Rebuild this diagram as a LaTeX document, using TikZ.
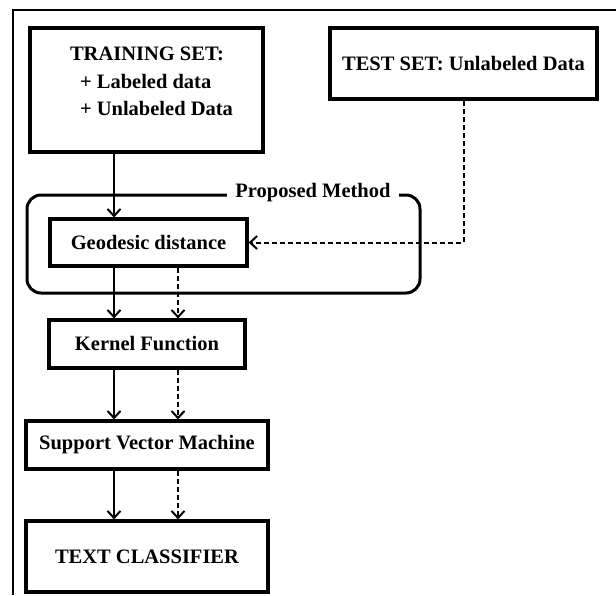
\documentclass[tikz,border=0pt]{standalone}
\usepackage{fontspec}
\setmainfont{Liberation Serif}
\usetikzlibrary{arrows.meta}
\tikzset{box/.style = {draw, line width=3.2pt, inner sep=0pt}}
\tikzset{flow/.style = {line width=2pt,
                        -{Straight Barb[length=7pt, width=13pt, line width=2pt]}}}
\tikzset{dflow/.style = {flow, dash pattern=on 5pt off 3pt}}

\begin{document}
\begin{tikzpicture}[x=1pt, y=-1pt, font=\bfseries\fontsize{20.5}{27.5}\selectfont]
      \useasboundingbox (0, 0) rectangle (616, 595);
      \draw [line width=2.4pt] (13, 595) -- (13, 10) -- (616, 10);

      \coordinate (solidlane) at (114, 0);
      \coordinate (dashlane) at (178, 0);

      \node [box, minimum width=233pt, minimum height=124pt] (train) at (146.5, 90) {};
      \node [align=left] (trainlbl) at (151.5, 81.5)
            {TRAINING SET:\\\hspace*{10pt}+ Labeled data\\\hspace*{10pt}+ Unlabeled Data};
      \node [box, minimum width=267pt, minimum height=71pt] (test) at (463.5, 63.5) {TEST SET: Unlabeled Data};

      \node [draw, rounded corners=14pt, line width=3pt, minimum width=393pt, minimum height=98pt] (method) at (223.5, 244) {};
      \node [fill=white, inner xsep=8pt, inner ysep=2pt, anchor=base] (methodlbl) at (313, 197) {Proposed Method};

      \node [box, minimum width=197pt, minimum height=47pt] (geo) at (148.5, 242.5) {Geodesic distance};
      \node [box, minimum width=196pt, minimum height=48pt] (kernel) at (147, 344) {Kernel Function};
      \node [box, minimum width=242pt, minimum height=48pt] (svm) at (147, 445) {Support Vector Machine};
      \node [box, minimum width=242pt, minimum height=71pt] (classifier) at (147, 556.5) {TEXT CLASSIFIER};

      \draw [flow] (train.south -| solidlane) -- (geo.north -| solidlane);
      \draw [dflow] (test.south) |- (geo.east);
      \foreach \a/\b in {geo/kernel, kernel/svm, svm/classifier} {
        \draw [flow] (\a.south -| solidlane) -- (\b.north -| solidlane);
        \draw [dflow] (\a.south -| dashlane) -- (\b.north -| dashlane);
      }
    \end{tikzpicture}
\end{document}
